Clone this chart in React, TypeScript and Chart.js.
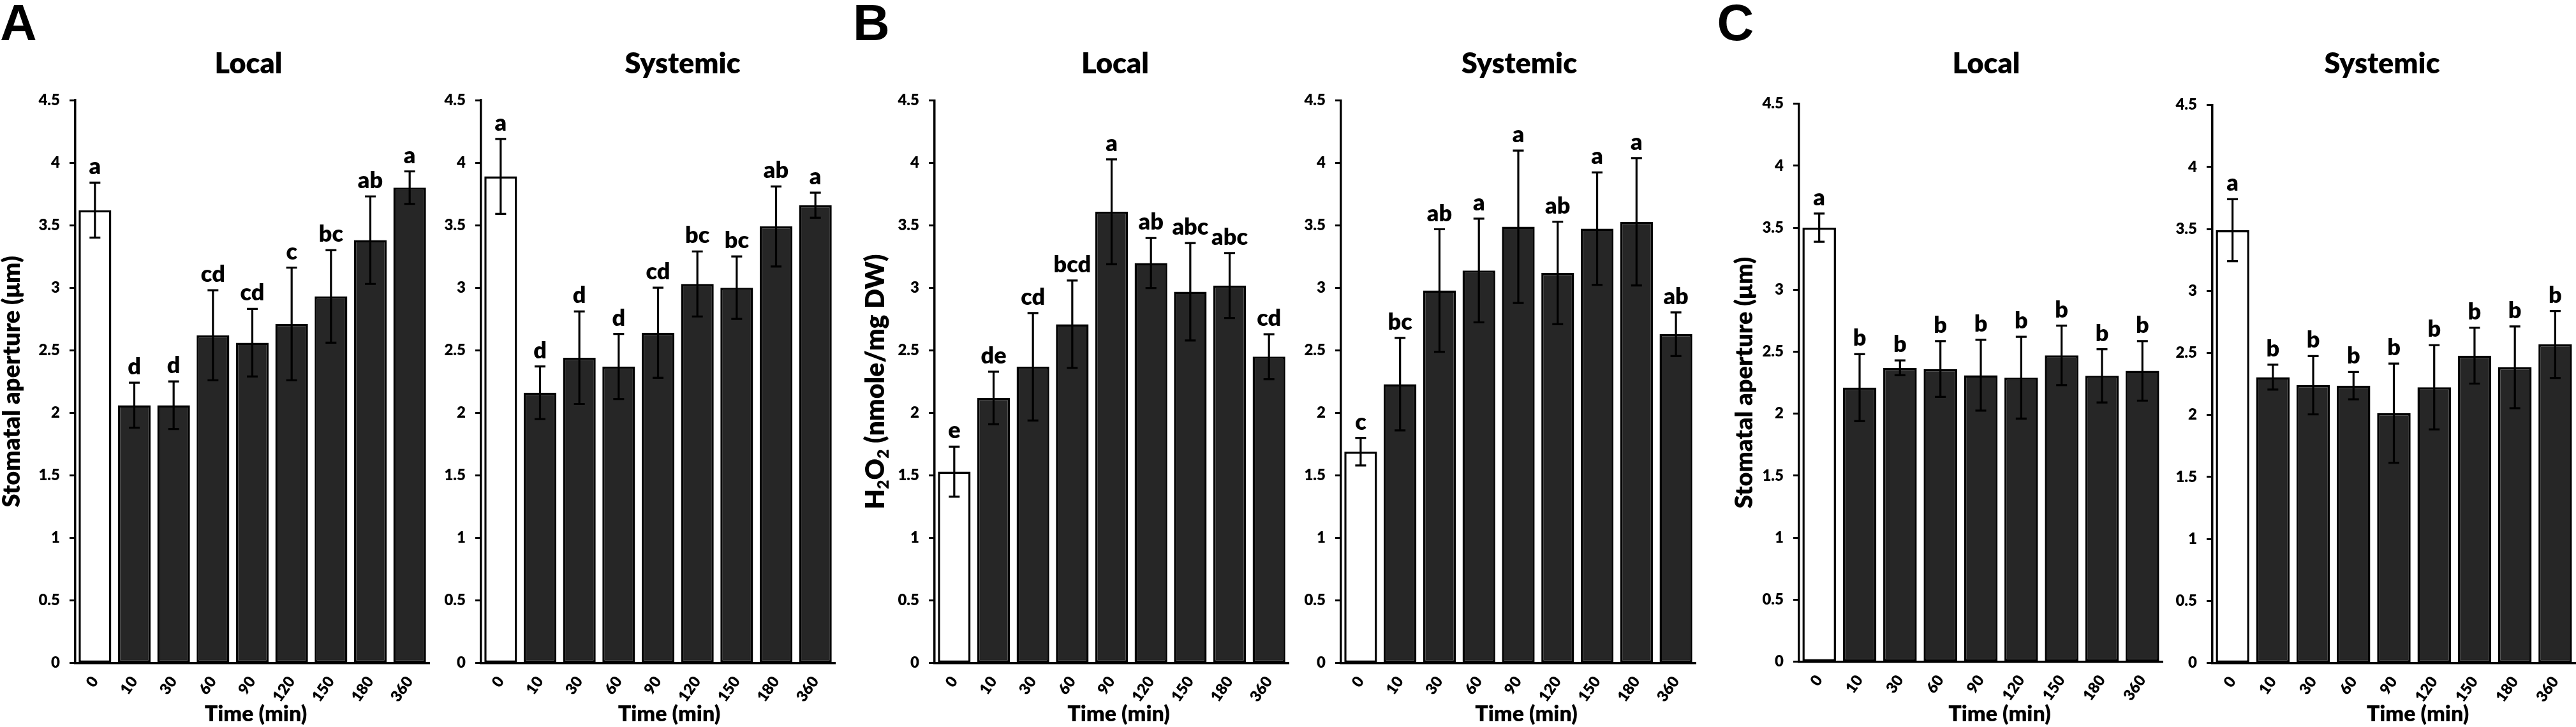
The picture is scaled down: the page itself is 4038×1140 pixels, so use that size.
import React, { useEffect, useRef } from 'react';
import { Chart, registerables } from 'chart.js';

Chart.register(...registerables);

// ---------- data ----------
const TIME_LABELS = ['0', '10', '30', '60', '90', '120', '150', '180', '360'];
const Y_MIN = 0;
const Y_MAX = 4.5;
const Y_STEP = 0.5;

const A_LOCAL_MEAN = [3.62, 2.06, 2.06, 2.62, 2.56, 2.71, 2.93, 3.38, 3.8];
const A_LOCAL_ERR = [0.22, 0.18, 0.19, 0.36, 0.27, 0.45, 0.37, 0.35, 0.13];
const A_LOCAL_LETTERS = ['a', 'd', 'd', 'cd', 'cd', 'c', 'bc', 'ab', 'a'];

const A_SYS_MEAN = [3.89, 2.16, 2.44, 2.37, 2.64, 3.03, 3.0, 3.49, 3.66];
const A_SYS_ERR = [0.3, 0.21, 0.37, 0.26, 0.36, 0.26, 0.25, 0.32, 0.1];
const A_SYS_LETTERS = ['a', 'd', 'd', 'd', 'cd', 'bc', 'bc', 'ab', 'a'];

const B_LOCAL_MEAN = [1.53, 2.12, 2.37, 2.71, 3.61, 3.2, 2.97, 3.02, 2.45];
const B_LOCAL_ERR = [0.2, 0.21, 0.43, 0.35, 0.42, 0.2, 0.39, 0.26, 0.18];
const B_LOCAL_LETTERS = ['e', 'de', 'cd', 'bcd', 'a', 'ab', 'abc', 'abc', 'cd'];

const B_SYS_MEAN = [1.69, 2.23, 2.98, 3.14, 3.49, 3.12, 3.475, 3.53, 2.63];
const B_SYS_ERR = [0.11, 0.37, 0.49, 0.415, 0.61, 0.41, 0.45, 0.51, 0.175];
const B_SYS_LETTERS = ['c', 'bc', 'ab', 'a', 'a', 'ab', 'a', 'a', 'ab'];

const C_LOCAL_MEAN = [3.5, 2.21, 2.37, 2.36, 2.31, 2.29, 2.47, 2.305, 2.345];
const C_LOCAL_ERR = [0.114, 0.27, 0.06, 0.225, 0.285, 0.33, 0.24, 0.215, 0.24];
const C_LOCAL_LETTERS = ['a', 'b', 'b', 'b', 'b', 'b', 'b', 'b', 'b'];

const C_SYS_MEAN = [3.49, 2.305, 2.24, 2.236, 2.014, 2.223, 2.478, 2.384, 2.569];
const C_SYS_ERR = [0.25, 0.1, 0.235, 0.11, 0.4, 0.34, 0.225, 0.33, 0.27];
const C_SYS_LETTERS = ['a', 'b', 'b', 'b', 'b', 'b', 'b', 'b', 'b'];

const X_TITLE = 'Time (min)';
const Y_TITLE_APERTURE = [{ t: 'Stomatal aperture (μm)' }];
const Y_TITLE_H2O2 = [
  { t: 'H' }, { t: '2', sub: true }, { t: 'O' }, { t: '2', sub: true }, { t: ' (nmole/mg DW)' },
];

// ---------- styling / layout ----------
const PAGE_W = 4038;
const PAGE_H = 1140;
const FONT = 'Lato';
const WEIGHT = 800;
const BAR_DARK = '#262626';
const Y_AXIS_W = 80;
const X_AXIS_H = 62;

type Seg = { t: string; sub?: boolean };
type Panel = {
  title: string;
  mean: number[];
  err: number[];
  letters: string[];
  plotL: number;
  plotR: number;
  top: number;
  bottom: number;
  titleX: number;
  timeX: number;
  yTitle?: Seg[];
  yTitleX?: number;
  yTitleSize?: number;
  panelLetter?: string;
  panelLetterX?: number;
};

const PANELS: Panel[] = [
  { title: 'Local', mean: A_LOCAL_MEAN, err: A_LOCAL_ERR, letters: A_LOCAL_LETTERS,
    plotL: 118, plotR: 673, top: 157, bottom: 1039.4, titleX: 389.5, timeX: 401,
    yTitle: Y_TITLE_APERTURE, yTitleX: 31, yTitleSize: 38, panelLetter: 'A', panelLetterX: 0 },
  { title: 'Systemic', mean: A_SYS_MEAN, err: A_SYS_ERR, letters: A_SYS_LETTERS,
    plotL: 754, plotR: 1309, top: 157, bottom: 1039.4, titleX: 1070, timeX: 1049 },
  { title: 'Local', mean: B_LOCAL_MEAN, err: B_LOCAL_ERR, letters: B_LOCAL_LETTERS,
    plotL: 1465, plotR: 2020, top: 157.7, bottom: 1039.4, titleX: 1748, timeX: 1753.6,
    yTitle: Y_TITLE_H2O2, yTitleX: 1386, yTitleSize: 41, panelLetter: 'B', panelLetterX: 1337 },
  { title: 'Systemic', mean: B_SYS_MEAN, err: B_SYS_ERR, letters: B_SYS_LETTERS,
    plotL: 2101.5, plotR: 2657, top: 157.7, bottom: 1039.4, titleX: 2381, timeX: 2392 },
  { title: 'Local', mean: C_LOCAL_MEAN, err: C_LOCAL_ERR, letters: C_LOCAL_LETTERS,
    plotL: 2819.5, plotR: 3389.5, top: 162.6, bottom: 1037.5, titleX: 3113, timeX: 3134,
    yTitle: Y_TITLE_APERTURE, yTitleX: 2746, yTitleSize: 38, panelLetter: 'C', panelLetterX: 2691 },
  { title: 'Systemic', mean: C_SYS_MEAN, err: C_SYS_ERR, letters: C_SYS_LETTERS,
    plotL: 3468, plotR: 4037, top: 164.6, bottom: 1039.6, titleX: 3734, timeX: 3790 },
];

function drawRich(ctx: CanvasRenderingContext2D, segs: Seg[], size: number) {
  const big = `${WEIGHT} ${size}px ${FONT}`;
  const small = `${WEIGHT} ${Math.round(size * 0.62)}px ${FONT}`;
  let total = 0;
  const widths = segs.map((s) => {
    ctx.font = s.sub ? small : big;
    const w = ctx.measureText(s.t).width;
    total += w;
    return w;
  });
  let x = -total / 2;
  segs.forEach((s, i) => {
    ctx.font = s.sub ? small : big;
    ctx.fillText(s.t, x, s.sub ? size * 0.18 : 0);
    x += widths[i];
  });
}

function BarPanel({ p }: { p: Panel }) {
  const ref = useRef<HTMLCanvasElement | null>(null);
  const canvasLeft = Math.max(0, p.plotL - 130);
  const canvasRight = Math.min(PAGE_W, p.plotR + 40);
  const W = Math.round(canvasRight - canvasLeft);

  useEffect(() => {
    if (!ref.current) return;
    const ox = canvasLeft;
    const decor = {
      id: 'decor',
      afterDraw(chart: any) {
        const ctx: CanvasRenderingContext2D = chart.ctx;
        const xs = chart.scales.x;
        const ys = chart.scales.y;
        ctx.save();
        ctx.fillStyle = '#000';
        ctx.strokeStyle = '#000';
        ctx.lineWidth = 3.2;
        ctx.textAlign = 'center';
        ctx.textBaseline = 'alphabetic';
        p.mean.forEach((m, i) => {
          const x = xs.getPixelForValue(i);
          const yT = ys.getPixelForValue(m + p.err[i]);
          const yB = ys.getPixelForValue(m - p.err[i]);
          ctx.beginPath();
          ctx.moveTo(x, yT);
          ctx.lineTo(x, yB);
          ctx.moveTo(x - 8.5, yT);
          ctx.lineTo(x + 8.5, yT);
          ctx.moveTo(x - 8.5, yB);
          ctx.lineTo(x + 8.5, yB);
          ctx.stroke();
          ctx.font = `${WEIGHT} 36px ${FONT}`;
          ctx.fillText(p.letters[i], x, yT - 13);
        });
        ctx.font = `${WEIGHT} 45px ${FONT}`;
        ctx.fillText(p.title, p.titleX - ox, 115);
        ctx.font = `${WEIGHT} 34px ${FONT}`;
        ctx.fillText(X_TITLE, p.timeX - ox, 1131);
        if (p.yTitle && p.yTitleX !== undefined) {
          ctx.save();
          ctx.translate(p.yTitleX - ox, (p.top + p.bottom) / 2);
          ctx.rotate(-Math.PI / 2);
          ctx.textAlign = 'left';
          drawRich(ctx, p.yTitle, p.yTitleSize || 38);
          ctx.restore();
        }
        if (p.panelLetter && p.panelLetterX !== undefined) {
          ctx.textAlign = 'left';
          ctx.font = `bold 80px 'Liberation Sans'`;
          ctx.fillText(p.panelLetter, p.panelLetterX - ox, 63);
        }
        ctx.restore();
      },
    };

    const tickFont = { family: FONT, size: 24, weight: WEIGHT as any };
    const chart = new Chart(ref.current, {
      type: 'bar',
      data: {
        labels: TIME_LABELS,
        datasets: [
          {
            data: p.mean,
            backgroundColor: p.mean.map((_, i) => (i === 0 ? '#ffffff' : BAR_DARK)),
            borderColor: '#000000',
            borderWidth: 3.5,
            borderSkipped: false,
            barPercentage: 0.83,
            categoryPercentage: 1,
          },
        ],
      },
      options: {
        responsive: false,
        animation: false,
        devicePixelRatio: 1,
        layout: {
          padding: {
            left: p.plotL - canvasLeft - Y_AXIS_W,
            right: canvasRight - p.plotR,
            top: p.top,
            bottom: PAGE_H - p.bottom - X_AXIS_H,
          },
        },
        plugins: {
          legend: { display: false },
          title: { display: false },
          tooltip: { enabled: false },
        },
        scales: {
          x: {
            type: 'category',
            offset: true,
            grid: { display: false },
            border: { display: true, color: '#000', width: 3.5 },
            ticks: {
              color: '#000',
              font: tickFont,
              minRotation: 55,
              maxRotation: 55,
              autoSkip: false,
              padding: 8,
            },
            afterFit: (s: any) => {
              s.height = X_AXIS_H;
            },
          },
          y: {
            type: 'linear',
            min: Y_MIN,
            max: Y_MAX,
            ticks: {
              stepSize: Y_STEP,
              color: '#000',
              font: tickFont,
              padding: 15,
              callback: (v: any) => String(v),
            },
            grid: {
              display: true,
              drawOnChartArea: false,
              drawTicks: true,
              tickLength: 9,
              tickWidth: 3,
              tickColor: '#000',
            },
            border: { display: true, color: '#000', width: 3.5 },
            afterFit: (s: any) => {
              s.width = Y_AXIS_W;
            },
          },
        },
      },
      plugins: [decor],
    } as any);
    return () => chart.destroy();
  }, []);

  return (
    <canvas
      ref={ref}
      width={W}
      height={PAGE_H}
      style={{ position: 'absolute', left: canvasLeft, top: 0, width: W, height: PAGE_H }}
    />
  );
}

export default function App() {
  useEffect(() => {
    document.body.style.margin = '0';
    document.body.style.overflow = 'hidden';
  }, []);
  return (
    <div style={{ position: 'absolute', left: 0, top: 0, width: PAGE_W, height: PAGE_H, background: '#fff', overflow: 'hidden' }}>
      {PANELS.map((p, i) => (
        <BarPanel key={i} p={p} />
      ))}
    </div>
  );
}
